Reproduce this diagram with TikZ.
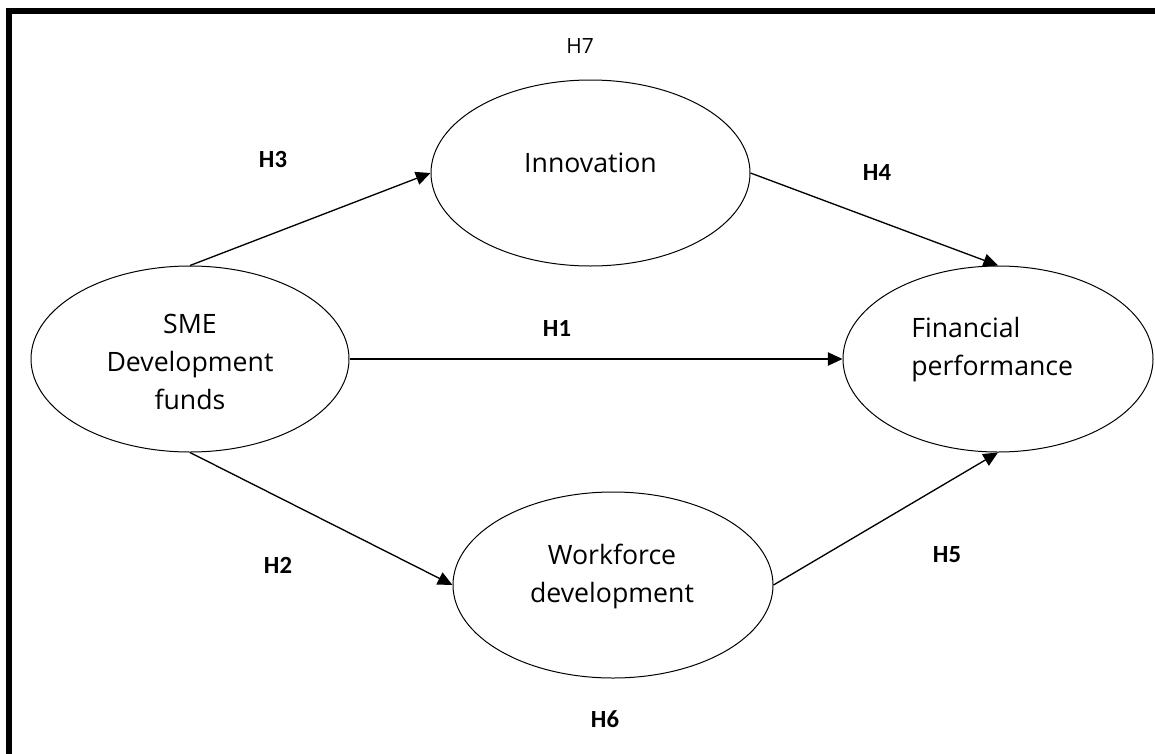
\documentclass[tikz,border=0pt]{standalone}
\usepackage{fontspec}
\setmainfont{Open Sans}
\newfontfamily\hypfont{Carlito}
\usetikzlibrary{shapes.geometric,arrows.meta}

\tikzset{
  construct/.style={draw, ellipse, line width=0.75pt, inner sep=0pt,
    minimum height=139.5pt},
  conceptlabel/.style={inner sep=0pt, font=\fontsize{20pt}{28.6pt}\selectfont},
  hyp/.style={inner sep=0pt, anchor=base, font=\hypfont\bfseries\fontsize{18.5pt}{22pt}\selectfont},
  hypplain/.style={inner sep=0pt, anchor=base, font=\fontsize{15.75pt}{19pt}\selectfont},
  path arrow/.style={line width=1pt, -{Triangle[length=11pt,width=10pt]}},
  frame/.style={line width=4.5pt}
}

\begin{document}
\begin{tikzpicture}[x=0.75pt, y=-0.75pt]
  \useasboundingbox (0,0) rectangle (1155,753);

  % outer frame (runs off the right and bottom edges)
  \draw[frame] (9,770) -- (9,11) -- (1170,11);

  % constructs
  \node[construct, minimum width=238.5pt] (sme) at (190,359) {};
  \node[construct, minimum width=239.25pt] (inn) at (590.5,173) {};
  \node[construct, minimum width=232.5pt] (fin) at (998,359) {};
  \node[construct, minimum width=240pt] (wf) at (613,585) {};

  % construct names
  \node[conceptlabel, anchor=base] (smetext) at (190,333)
    {\begin{tabular}[t]{@{}c@{}}SME\\Development\\funds\end{tabular}};
  \node[conceptlabel, anchor=base] (inntext) at (590.5,172) {Innovation};
  \node[conceptlabel, anchor=base west] (fintext) at (911,337)
    {\begin{tabular}[t]{@{}l@{}}Financial\\performance\end{tabular}};
  \node[conceptlabel, anchor=base] (wftext) at (612,564)
    {\begin{tabular}[t]{@{}c@{}}Workforce\\development\end{tabular}};

  % hypothesised paths
  \draw[path arrow] (sme.north) -- (inn.west);
  \draw[path arrow] (inn.east) -- (fin.north);
  \draw[path arrow] (sme.east) -- (fin.west);
  \draw[path arrow] (sme.south) -- (wf.west);
  \draw[path arrow] (wf.east) -- (fin.south);

  % hypothesis labels
  \node[hyp] (h1) at (557,336) {H1};
  \node[hyp] (h2) at (278,573) {H2};
  \node[hyp] (h3) at (273,167) {H3};
  \node[hyp] (h4) at (877,180) {H4};
  \node[hyp] (h5) at (947,562) {H5};
  \node[hyp] (h6) at (605,727) {H6};
  \node[hypplain] (h7) at (580,53) {H7};
\end{tikzpicture}
\end{document}
